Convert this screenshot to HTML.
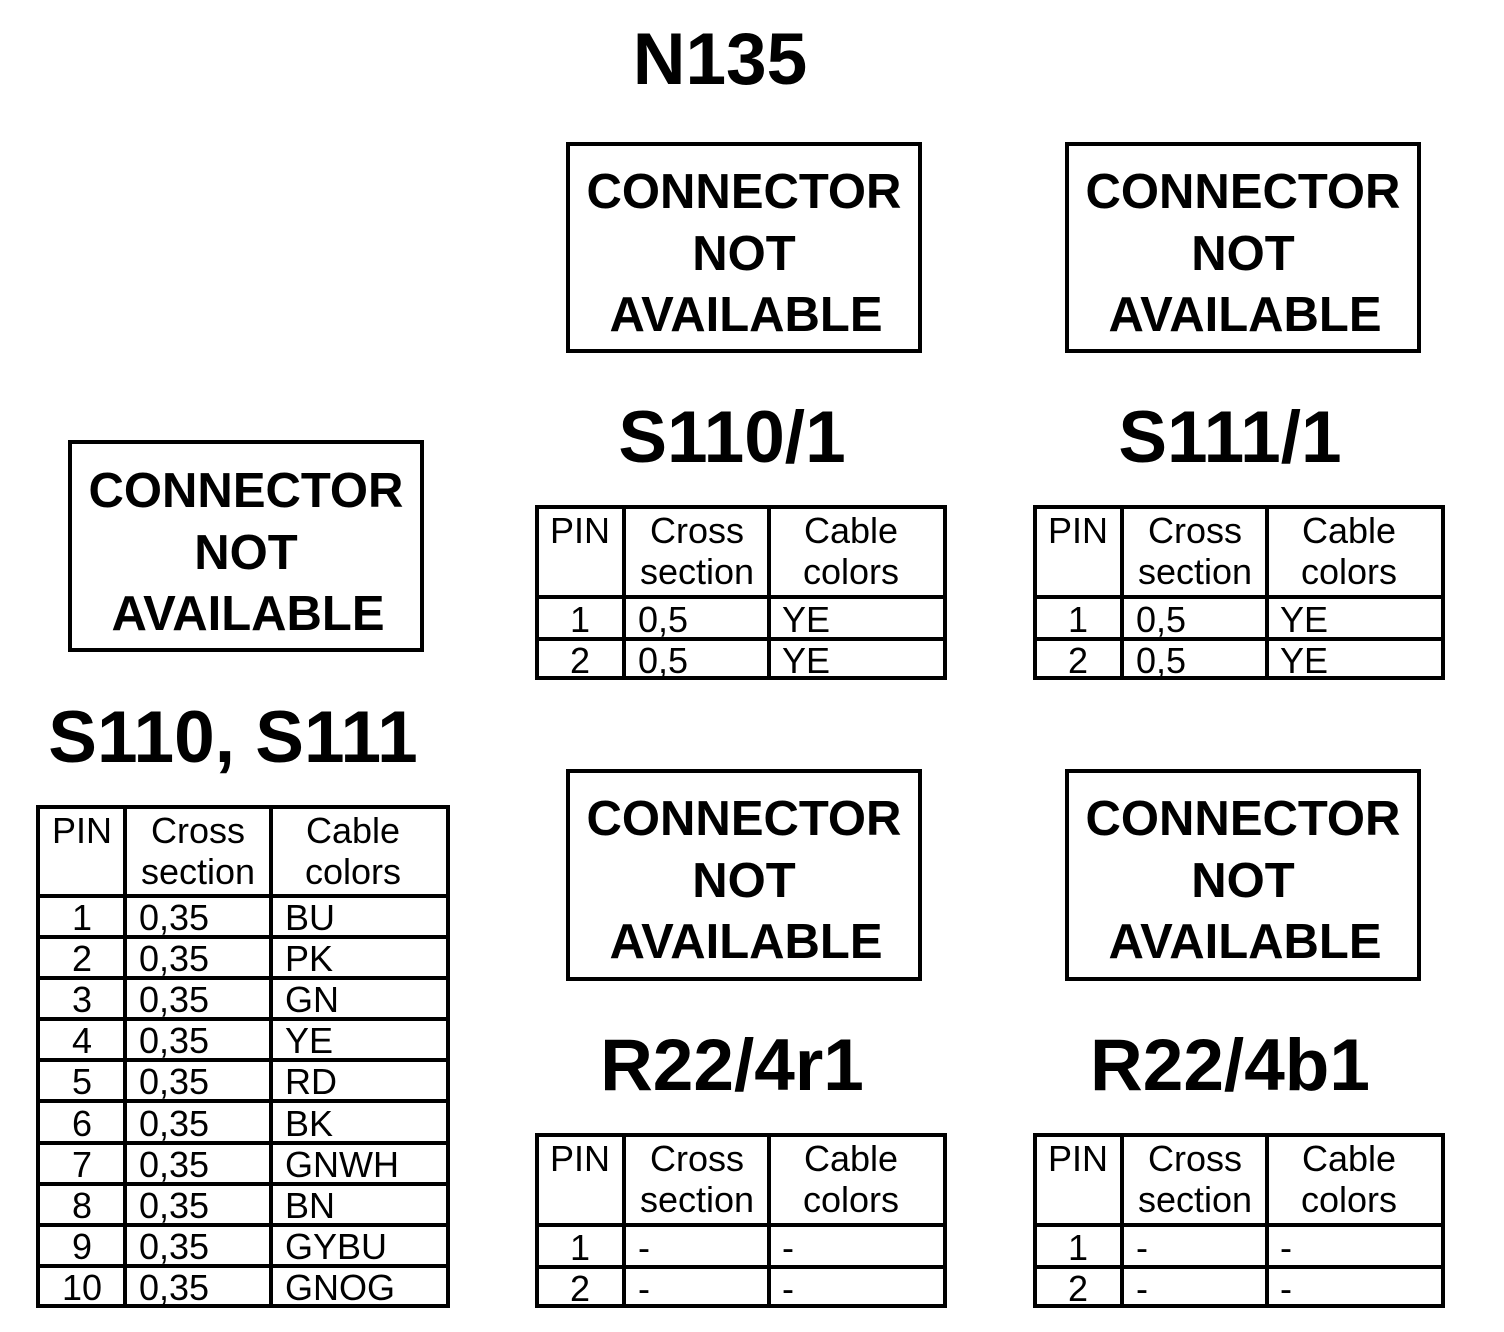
<!DOCTYPE html>
<html><head><meta charset="utf-8"><style>
html,body{margin:0;padding:0;background:#fff;}
svg{display:block;font-family:"Liberation Sans",Arial,sans-serif;}
.b{font-weight:bold;font-size:49px;}
.t{font-weight:bold;font-size:73px;}
.s{font-size:36px;}
</style></head><body>
<svg width="1504" height="1332" viewBox="0 0 1504 1332" xmlns="http://www.w3.org/2000/svg">
<g fill="none" stroke="#000" stroke-width="4">
<rect x="568" y="144" width="352" height="207"/>
<rect x="1067" y="144" width="352" height="207"/>
<rect x="70" y="442" width="352" height="208"/>
<rect x="568" y="771" width="352" height="208"/>
<rect x="1067" y="771" width="352" height="208"/>
</g>
<g class="b" text-anchor="middle">
<text x="744" y="208">CONNECTOR</text><text x="744" y="270">NOT</text><text x="746" y="331">AVAILABLE</text>
<text x="1243" y="208">CONNECTOR</text><text x="1243" y="270">NOT</text><text x="1245" y="331">AVAILABLE</text>
<text x="246" y="507">CONNECTOR</text><text x="246" y="569">NOT</text><text x="248" y="630">AVAILABLE</text>
<text x="744" y="835">CONNECTOR</text><text x="744" y="897">NOT</text><text x="746" y="958">AVAILABLE</text>
<text x="1243" y="835">CONNECTOR</text><text x="1243" y="897">NOT</text><text x="1245" y="958">AVAILABLE</text>
</g>
<g class="t" text-anchor="middle">
<text x="720" y="84">N135</text>
<text x="732" y="462">S110/1</text>
<text x="1230" y="462">S111/1</text>
<text x="233" y="762">S110, S111</text>
<text x="732" y="1090">R22/4r1</text>
<text x="1230" y="1090">R22/4b1</text>
</g>
<g>
<g fill="none" stroke="#000" stroke-width="4">
<rect x="537" y="507" width="408" height="171"/>
<line x1="624" y1="507" x2="624" y2="678"/><line x1="769" y1="507" x2="769" y2="678"/>
<line x1="537" y1="597" x2="945" y2="597"/><line x1="537" y1="639" x2="945" y2="639"/>
</g>
<g class="s">
<text x="580" y="543" text-anchor="middle">PIN</text>
<text x="697" y="543" text-anchor="middle">Cross</text><text x="697" y="584" text-anchor="middle">section</text>
<text x="851" y="543" text-anchor="middle">Cable</text><text x="851" y="584" text-anchor="middle">colors</text>
<text x="580" y="632" text-anchor="middle">1</text><text x="638" y="632">0,5</text><text x="782" y="632">YE</text>
<text x="580" y="673" text-anchor="middle">2</text><text x="638" y="673">0,5</text><text x="782" y="673">YE</text>
</g></g>
<g transform="translate(498,0)">
<g fill="none" stroke="#000" stroke-width="4">
<rect x="537" y="507" width="408" height="171"/>
<line x1="624" y1="507" x2="624" y2="678"/><line x1="769" y1="507" x2="769" y2="678"/>
<line x1="537" y1="597" x2="945" y2="597"/><line x1="537" y1="639" x2="945" y2="639"/>
</g>
<g class="s">
<text x="580" y="543" text-anchor="middle">PIN</text>
<text x="697" y="543" text-anchor="middle">Cross</text><text x="697" y="584" text-anchor="middle">section</text>
<text x="851" y="543" text-anchor="middle">Cable</text><text x="851" y="584" text-anchor="middle">colors</text>
<text x="580" y="632" text-anchor="middle">1</text><text x="638" y="632">0,5</text><text x="782" y="632">YE</text>
<text x="580" y="673" text-anchor="middle">2</text><text x="638" y="673">0,5</text><text x="782" y="673">YE</text>
</g></g>
<g transform="translate(0,628)">
<g fill="none" stroke="#000" stroke-width="4">
<rect x="537" y="507" width="408" height="171"/>
<line x1="624" y1="507" x2="624" y2="678"/><line x1="769" y1="507" x2="769" y2="678"/>
<line x1="537" y1="597" x2="945" y2="597"/><line x1="537" y1="639" x2="945" y2="639"/>
</g>
<g class="s">
<text x="580" y="543" text-anchor="middle">PIN</text>
<text x="697" y="543" text-anchor="middle">Cross</text><text x="697" y="584" text-anchor="middle">section</text>
<text x="851" y="543" text-anchor="middle">Cable</text><text x="851" y="584" text-anchor="middle">colors</text>
<text x="580" y="632" text-anchor="middle">1</text><text x="638" y="632">-</text><text x="782" y="632">-</text>
<text x="580" y="673" text-anchor="middle">2</text><text x="638" y="673">-</text><text x="782" y="673">-</text>
</g></g>
<g transform="translate(498,628)">
<g fill="none" stroke="#000" stroke-width="4">
<rect x="537" y="507" width="408" height="171"/>
<line x1="624" y1="507" x2="624" y2="678"/><line x1="769" y1="507" x2="769" y2="678"/>
<line x1="537" y1="597" x2="945" y2="597"/><line x1="537" y1="639" x2="945" y2="639"/>
</g>
<g class="s">
<text x="580" y="543" text-anchor="middle">PIN</text>
<text x="697" y="543" text-anchor="middle">Cross</text><text x="697" y="584" text-anchor="middle">section</text>
<text x="851" y="543" text-anchor="middle">Cable</text><text x="851" y="584" text-anchor="middle">colors</text>
<text x="580" y="632" text-anchor="middle">1</text><text x="638" y="632">-</text><text x="782" y="632">-</text>
<text x="580" y="673" text-anchor="middle">2</text><text x="638" y="673">-</text><text x="782" y="673">-</text>
</g></g>
<g fill="none" stroke="#000" stroke-width="4">
<rect x="38" y="807" width="410" height="499"/>
<line x1="125" y1="807" x2="125" y2="1306"/><line x1="271" y1="807" x2="271" y2="1306"/>
<line x1="38" y1="896" x2="448" y2="896"/>
<line x1="38" y1="937" x2="448" y2="937"/>
<line x1="38" y1="978" x2="448" y2="978"/>
<line x1="38" y1="1019" x2="448" y2="1019"/>
<line x1="38" y1="1060" x2="448" y2="1060"/>
<line x1="38" y1="1101" x2="448" y2="1101"/>
<line x1="38" y1="1143" x2="448" y2="1143"/>
<line x1="38" y1="1184" x2="448" y2="1184"/>
<line x1="38" y1="1225" x2="448" y2="1225"/>
<line x1="38" y1="1266" x2="448" y2="1266"/>
</g>
<g class="s">
<text x="82" y="843" text-anchor="middle">PIN</text>
<text x="198" y="843" text-anchor="middle">Cross</text><text x="198" y="884" text-anchor="middle">section</text>
<text x="353" y="843" text-anchor="middle">Cable</text><text x="353" y="884" text-anchor="middle">colors</text>
<text x="82" y="930" text-anchor="middle">1</text><text x="139" y="930">0,35</text><text x="285" y="930">BU</text>
<text x="82" y="971" text-anchor="middle">2</text><text x="139" y="971">0,35</text><text x="285" y="971">PK</text>
<text x="82" y="1012" text-anchor="middle">3</text><text x="139" y="1012">0,35</text><text x="285" y="1012">GN</text>
<text x="82" y="1053" text-anchor="middle">4</text><text x="139" y="1053">0,35</text><text x="285" y="1053">YE</text>
<text x="82" y="1094" text-anchor="middle">5</text><text x="139" y="1094">0,35</text><text x="285" y="1094">RD</text>
<text x="82" y="1136" text-anchor="middle">6</text><text x="139" y="1136">0,35</text><text x="285" y="1136">BK</text>
<text x="82" y="1177" text-anchor="middle">7</text><text x="139" y="1177">0,35</text><text x="285" y="1177">GNWH</text>
<text x="82" y="1218" text-anchor="middle">8</text><text x="139" y="1218">0,35</text><text x="285" y="1218">BN</text>
<text x="82" y="1259" text-anchor="middle">9</text><text x="139" y="1259">0,35</text><text x="285" y="1259">GYBU</text>
<text x="82" y="1300" text-anchor="middle">10</text><text x="139" y="1300">0,35</text><text x="285" y="1300">GNOG</text>
</g>
</svg>
</body></html>
